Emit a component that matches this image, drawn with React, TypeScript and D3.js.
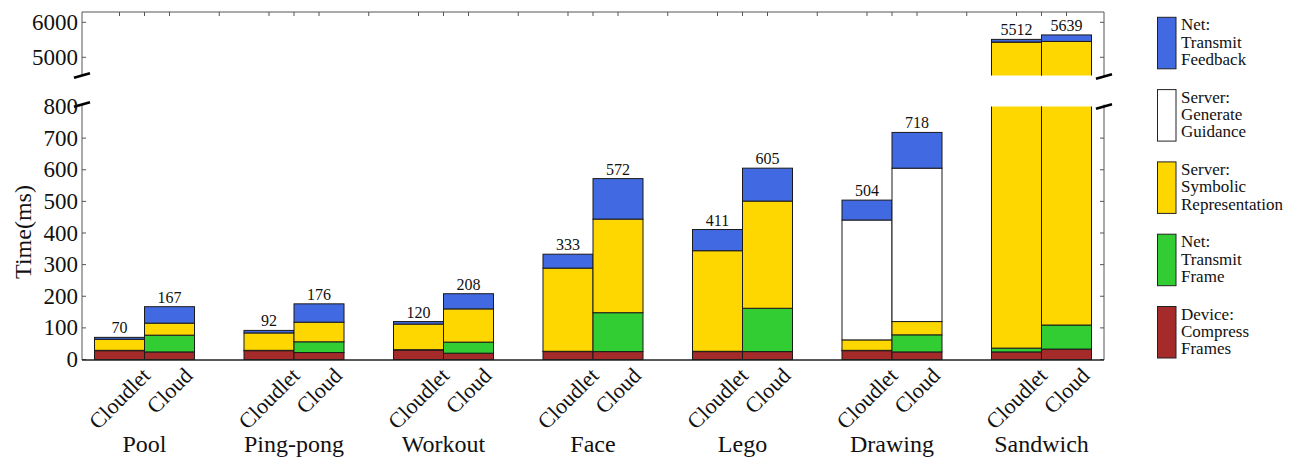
import { useMemo } from 'react';
import * as d3 from 'd3';

const GROUPS = ['Pool', 'Ping-pong', 'Workout', 'Face', 'Lego', 'Drawing', 'Sandwich'];
const VARIANTS = ['Cloudlet', 'Cloud'];

// per group: [cloudlet, cloud], in ms
const compressFrames = [[28, 24], [28, 22], [30, 20], [25, 25], [25, 25], [28, 24], [24, 33]];
const transmitFrame = [[1, 53], [1, 34], [1, 35], [1, 123], [1, 137], [1, 54], [12, 76]];
const symbolicRep = [[35, 38], [55, 62], [81, 105], [263, 296], [318, 339], [33, 42], [5400, 5345]];
const generateGuidance = [[0, 0], [0, 0], [0, 0], [0, 0], [0, 0], [379, 485], [1, 0]];
const transmitFeedback = [[6, 52], [8, 58], [8, 48], [44, 128], [67, 104], [63, 113], [75, 185]];

const LOWER_TICKS = [0, 100, 200, 300, 400, 500, 600, 700, 800];
const UPPER_TICKS = [5000, 6000];

const SERIES = [
  { key: 'compress', label: ['Device:', 'Compress', 'Frames'], color: '#A52A2A', values: compressFrames },
  { key: 'frame', label: ['Net:', 'Transmit', 'Frame'], color: '#32CD32', values: transmitFrame },
  { key: 'symbolic', label: ['Server:', 'Symbolic', 'Representation'], color: '#FFD700', values: symbolicRep },
  { key: 'guidance', label: ['Server:', 'Generate', 'Guidance'], color: '#FFFFFF', values: generateGuidance },
  { key: 'feedback', label: ['Net:', 'Transmit', 'Feedback'], color: '#4169E1', values: transmitFeedback },
];

const LEFT = 82;
const RIGHT = 1104;
const TOP = 12;
const BOTTOM = 360;
const BREAK_TOP = 75.5; // bottom edge of upper panel
const BREAK_LOW = 106.5; // top edge of lower panel
const FONT = '"Liberation Serif", "Times New Roman", serif';

function textWidth(str: string, size: number) {
  const c = document.createElement('canvas').getContext('2d');
  if (!c) return str.length * size * 0.45;
  c.font = `${size}px "Liberation Serif"`;
  return c.measureText(str).width;
}

export default function App() {
  const chart = useMemo(() => {
    const x0 = d3.scaleBand<string>().domain(GROUPS).range([LEFT, RIGHT])
      .paddingInner(0.331).paddingOuter(0.0836);
    const x1 = d3.scaleBand<string>().domain(VARIANTS).range([0, x0.bandwidth()]).padding(0);
    const yLow = d3.scaleLinear().domain([0, 800]).range([359.5, BREAK_LOW]);
    const yUp = d3.scaleLinear().domain([4480, 6300]).range([BREAK_TOP, 11.8]);

    const bars = GROUPS.flatMap((g, gi) =>
      VARIANTS.map((v, vi) => {
        let acc = 0;
        const segs = SERIES.map((s) => {
          const val = s.values[gi][vi];
          const seg = { key: s.key, color: s.color, y0: acc, y1: acc + val };
          acc += val;
          return seg;
        }).filter((s) => s.y1 > s.y0);
        return { g, v, x: (x0(g) ?? 0) + (x1(v) ?? 0), total: acc, segs };
      })
    );

    const topTicks: number[] = [];
    GROUPS.forEach((g, gi) => {
      const gx = x0(g) ?? 0;
      VARIANTS.forEach((v) => topTicks.push(gx + (x1(v) ?? 0) + x1.bandwidth() / 2));
      topTicks.push(gx + x0.bandwidth() / 2);
      if (gi < GROUPS.length - 1) topTicks.push(gx + x0.bandwidth() + (x0.step() - x0.bandwidth()) / 2);
    });

    return { x0, x1, yLow, yUp, bars, topTicks };
  }, []);

  const { x0, x1, yLow, yUp, bars, topTicks } = chart;
  const bw = x1.bandwidth();

  const renderBars = (y: (v: number) => number, clip: string) => (
    <g clipPath={`url(#${clip})`}>
      {bars.map((b) =>
        b.segs.map((s) => (
          <rect
            key={`${b.g}-${b.v}-${s.key}`}
            x={b.x} y={y(s.y1)} width={bw} height={Math.max(0, y(s.y0) - y(s.y1))}
            fill={s.color} stroke="#1a1a1a" strokeWidth={1}
          />
        ))
      )}
    </g>
  );

  const breakMark = (x: number, y: number) => (
    <line x1={x - 8} y1={y + 2.3} x2={x + 8} y2={y - 2.3} stroke="#000" strokeWidth={2.6} />
  );

  return (
    <svg width={1302} height={459} style={{ position: 'absolute', left: 0, top: 0, background: '#fff' }} fontFamily={FONT}>
      <defs>
        <clipPath id="clip-low"><rect x={LEFT} y={BREAK_LOW} width={RIGHT - LEFT} height={BOTTOM - BREAK_LOW} /></clipPath>
        <clipPath id="clip-up"><rect x={LEFT} y={TOP} width={RIGHT - LEFT} height={BREAK_TOP - TOP} /></clipPath>
      </defs>

      {renderBars(yLow, 'clip-low')}
      {renderBars(yUp, 'clip-up')}

      {/* totals */}
      {bars.map((b) => {
        const y = b.total > 800 ? yUp(b.total) : yLow(b.total);
        return (
          <text key={`t-${b.g}-${b.v}`} x={b.x + bw / 2} y={y - 4} textAnchor="middle" fontSize={16} fill="#111">
            {b.total}
          </text>
        );
      })}

      {/* frame */}
      <g stroke="#555" strokeWidth={1} fill="none">
        <line x1={LEFT} y1={TOP} x2={RIGHT} y2={TOP} />
        <line x1={LEFT} y1={TOP} x2={LEFT} y2={BREAK_TOP} />
        <line x1={LEFT} y1={BREAK_LOW - 2} x2={LEFT} y2={BOTTOM} />
        <line x1={RIGHT} y1={TOP} x2={RIGHT} y2={BREAK_TOP} />
        <line x1={RIGHT} y1={BREAK_LOW - 2} x2={RIGHT} y2={BOTTOM} />
        {topTicks.map((t) => (
          <line key={`tt-${t}`} x1={t} y1={TOP} x2={t} y2={TOP + 4} />
        ))}
        {LOWER_TICKS.slice(0, -1).map((t) => (
          <g key={`lt-${t}`}>
            <line x1={LEFT} y1={yLow(t)} x2={LEFT + 4} y2={yLow(t)} />
            <line x1={RIGHT} y1={yLow(t)} x2={RIGHT - 4} y2={yLow(t)} />
          </g>
        ))}
        {UPPER_TICKS.map((t) => (
          <g key={`ut-${t}`}>
            <line x1={LEFT} y1={yUp(t)} x2={LEFT + 4} y2={yUp(t)} />
            <line x1={RIGHT} y1={yUp(t)} x2={RIGHT - 4} y2={yUp(t)} />
          </g>
        ))}
      </g>
      <line x1={LEFT} y1={BOTTOM} x2={RIGHT} y2={BOTTOM} stroke="#222" strokeWidth={1.6} />

      {breakMark(LEFT, BREAK_TOP)}
      {breakMark(LEFT, BREAK_LOW - 2)}
      {breakMark(RIGHT, BREAK_TOP + 1)}
      {breakMark(RIGHT, BREAK_LOW)}

      {/* y tick labels */}
      {LOWER_TICKS.map((t) => (
        <text key={`ll-${t}`} x={78} y={yLow(t)} textAnchor="end" dominantBaseline="central" fontSize={23} fill="#111">
          {t}
        </text>
      ))}
      {UPPER_TICKS.map((t) => (
        <text key={`ul-${t}`} x={78} y={yUp(t)} textAnchor="end" dominantBaseline="central" fontSize={23} fill="#111">
          {t}
        </text>
      ))}
      <text transform="translate(23,232) rotate(-90)" textAnchor="middle" dominantBaseline="central" fontSize={24} fill="#111">
        Time(ms)
      </text>

      {/* x labels */}
      {bars.map((b) => {
        const w = textWidth(b.v, 22);
        const cx = b.x + bw / 2;
        const cy = 366 + ((w + 16) / 2) * Math.SQRT1_2;
        return (
          <text key={`xl-${b.g}-${b.v}`} transform={`translate(${cx},${cy}) rotate(-45)`}
            textAnchor="middle" dominantBaseline="central" fontSize={22} fill="#111">
            {b.v}
          </text>
        );
      })}
      {GROUPS.map((g) => (
        <text key={`gl-${g}`} x={(x0(g) ?? 0) + x0.bandwidth() / 2} y={452} textAnchor="middle" fontSize={24} fill="#111">
          {g}
        </text>
      ))}

      {/* legend */}
      {SERIES.slice().reverse().map((s, i) => {
        const top = 17.3 + i * 72.3;
        return (
          <g key={`lg-${s.key}`}>
            <rect x={1157.5} y={top} width={18.5} height={51.5} fill={s.color} stroke="#222" strokeWidth={1} />
            {s.label.map((line, li) => (
              <text key={line} x={1181} y={top + 13 + li * 17.4} fontSize={17} fill="#111">
                {line}
              </text>
            ))}
          </g>
        );
      })}
    </svg>
  );
}
